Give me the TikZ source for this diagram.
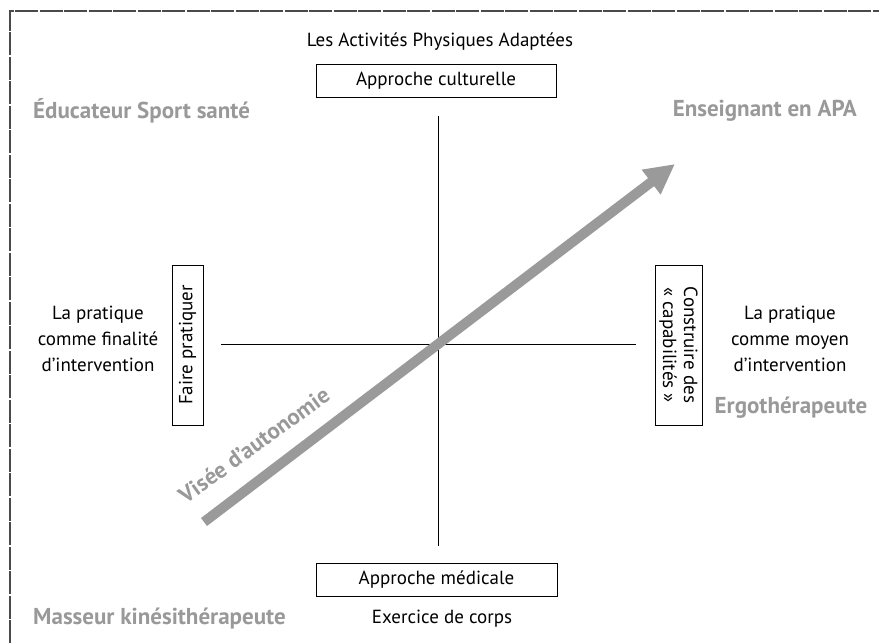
\documentclass[tikz,border=0pt]{standalone}
\usepackage{fontspec}
\setmainfont{PT Sans}
\usetikzlibrary{arrows.meta}
\definecolor{txtgray}{HTML}{999999}
\definecolor{arrgray}{HTML}{9A9A9A}
\definecolor{framegray}{HTML}{4A4A4A}
\tikzset{
  lbl/.style={font=\fontsize{19}{26}\selectfont, text=black, inner sep=0pt, align=center},
  role/.style={font=\fontsize{23}{26}\selectfont\bfseries, text=txtgray, inner sep=0pt},
  boxnode/.style={draw=black, line width=1pt, font=\fontsize{19}{21}\selectfont, inner sep=0pt, align=center},
  axisline/.style={draw=black, line width=0.8pt},
  frame/.style={draw=framegray, line width=1.3pt, dash pattern=on 23pt off 1.5pt},
}
\begin{document}
\begin{tikzpicture}[x=1pt,y=-1pt]
\useasboundingbox (0,0) rectangle (879,643);
% frame
\coordinate (fbl) at (10,643);
\coordinate (ftl) at (10,11);
\coordinate (ftr) at (879,11);
\draw[frame] (fbl) -- (ftl) -- (ftr);
% axes
\coordinate (atop) at (438,116);
\coordinate (abot) at (438,546);
\coordinate (aleft) at (221,344);
\coordinate (aright) at (636,344);
\draw[axisline] (atop) -- (abot);
\draw[axisline] (aleft) -- (aright);
% arrow
\coordinate (tail) at (204,522);
\coordinate (tip) at (675,164);
\draw[arrgray, line width=10pt, -{Triangle[width=29pt,length=30pt]}] (tail) -- (tip);
\node[role, rotate=36] (visee) at (254,445) {Visée d'autonomie};
% boxes
\node[boxnode, minimum width=240pt, minimum height=33pt] (cult) at (436,80.5) {Approche culturelle};
\node[boxnode, minimum width=241pt, minimum height=33pt] (med) at (436.5,579.5) {Approche médicale};
\node[boxnode, rotate=90, minimum width=160pt, minimum height=31pt] (faire) at (187.5,345) {Faire pratiquer};
\node[boxnode, rotate=-90, minimum width=160pt, minimum height=47pt] (constr) at (678.5,345) {Construire des\\« capabilités »};
% labels
\node[lbl] (title) at (440,42) {Les Activités Physiques Adaptées};
\node[lbl] (finalite) at (98,339) {La pratique\\comme finalité\\d'intervention};
\node[lbl] (moyen) at (790,339) {La pratique\\comme moyen\\d'intervention};
\node[lbl] (corps) at (442,619) {Exercice de corps};
\node[role] (ergo) at (791,408) {Ergothérapeute};
\node[role, anchor=west] (educ) at (33,111) {Éducateur Sport santé};
\node[role, anchor=east] (ens) at (857,111) {Enseignant en APA};
\node[role, anchor=west] (mass) at (33,619) {Masseur kinésithérapeute};
\end{tikzpicture}
\end{document}
